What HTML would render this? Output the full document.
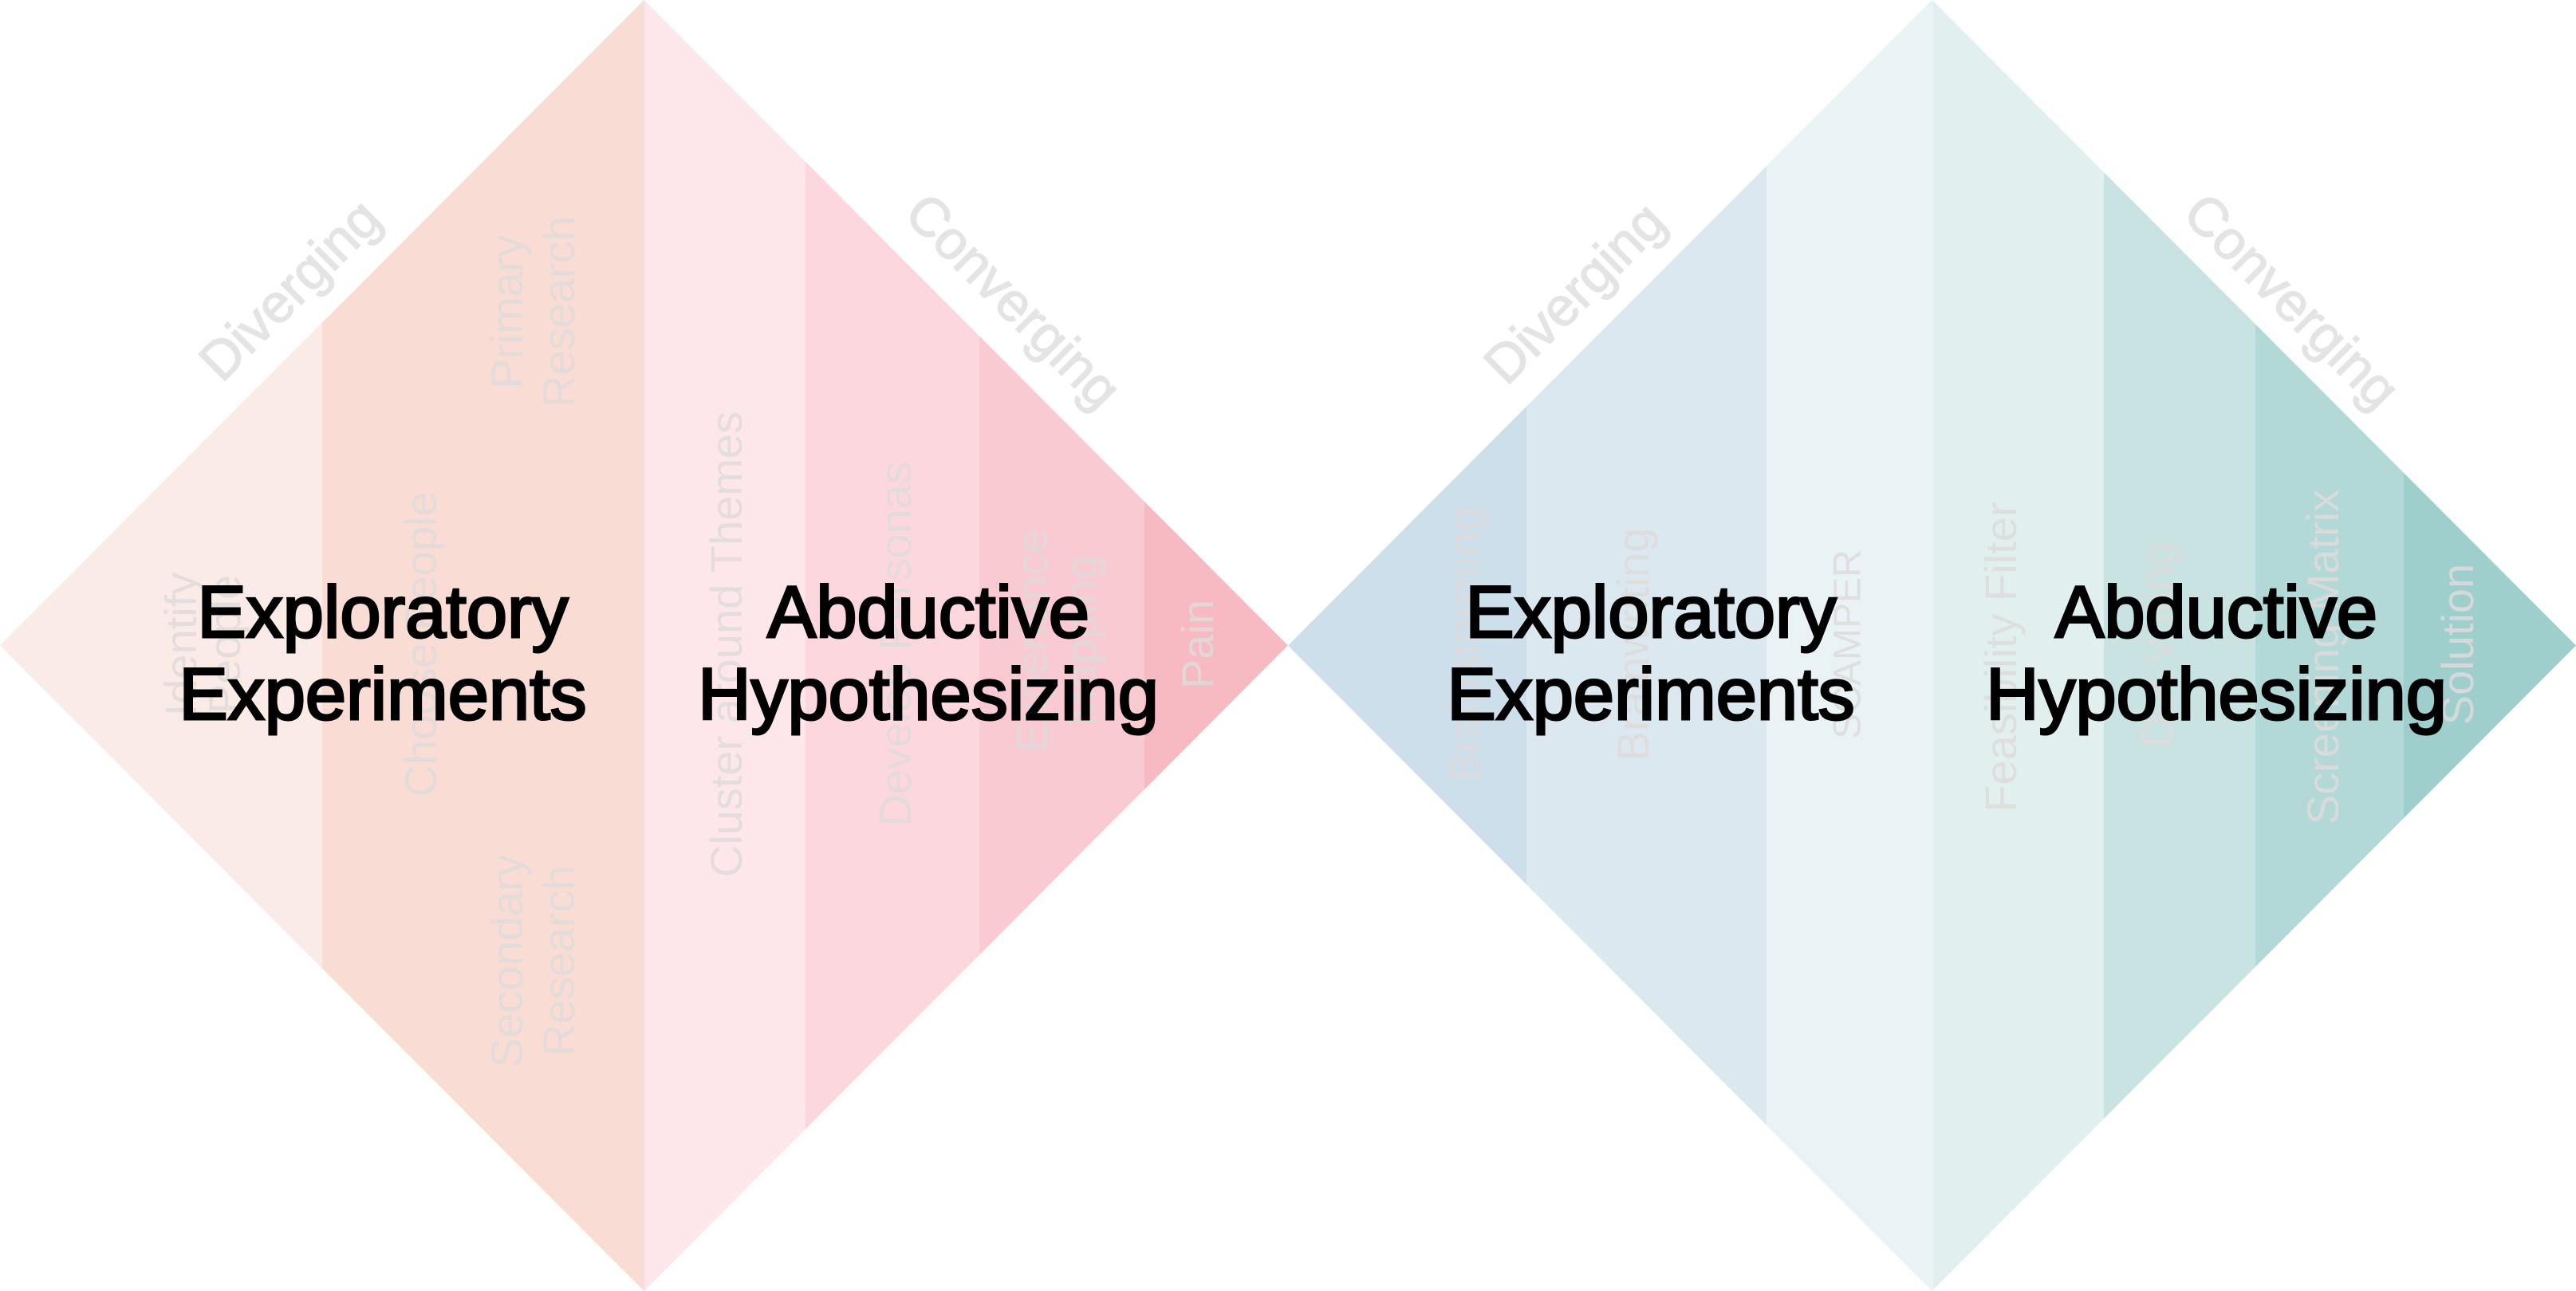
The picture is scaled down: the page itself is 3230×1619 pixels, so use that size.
<!DOCTYPE html>
<html><head><style>html,body{margin:0;padding:0;background:#fff}svg{display:block}</style></head>
<body>
<svg width="3230" height="1619" viewBox="0 0 3230 1619" xmlns="http://www.w3.org/2000/svg">
<defs>
<clipPath id="dl"><polygon points="0,809.5 807.5,0 1615,809.5 807.5,1619"/></clipPath>
<clipPath id="dr"><polygon points="1615,809.5 2422.5,0 3230,809.5 2422.5,1619"/></clipPath>
</defs>
<g clip-path="url(#dl)">
<rect x="0" y="0" width="404" height="1619" fill="#fbebe7"/>
<rect x="404" y="0" width="404" height="1619" fill="#f9ddd4"/>
<rect x="808" y="0" width="202" height="1619" fill="#fde7ea"/>
<rect x="1010" y="0" width="218" height="1619" fill="#fcd8de"/>
<rect x="1228" y="0" width="207" height="1619" fill="#f9cad2"/>
<rect x="1435" y="0" width="180" height="1619" fill="#f7bac3"/>
</g>
<g clip-path="url(#dr)">
<rect x="1615" y="0" width="299" height="1619" fill="#cddfea"/>
<rect x="1914" y="0" width="301" height="1619" fill="#dce8f0"/>
<rect x="2215" y="0" width="209" height="1619" fill="#e9f2f5"/>
<rect x="2424" y="0" width="214" height="1619" fill="#e1efef"/>
<rect x="2638" y="0" width="190" height="1619" fill="#c8e3e1"/>
<rect x="2828" y="0" width="186" height="1619" fill="#b2d9d7"/>
<rect x="3014" y="0" width="216" height="1619" fill="#9ecfcd"/>
</g>
<g font-family="Liberation Sans, sans-serif" fill="#dedada" fill-opacity="0.85" font-size="56" text-anchor="middle" dominant-baseline="middle">
<text transform="translate(231,808) rotate(-90)">Identify</text>
<text transform="translate(286,808) rotate(-90)">People</text>
<text transform="translate(640,391) rotate(-90)">Primary</text>
<text transform="translate(705,391) rotate(-90)">Research</text>
<text transform="translate(532,808) rotate(-90)">Choose People</text>
<text transform="translate(640,1205) rotate(-90)">Secondary</text>
<text transform="translate(705,1205) rotate(-90)">Research</text>
<text transform="translate(915,808) rotate(-90)">Cluster around Themes</text>
<text transform="translate(1127,808) rotate(-90)">Develop Personas</text>
<text transform="translate(1298,803) rotate(-90)">Experience</text>
<text transform="translate(1360,803) rotate(-90)">Mapping</text>
<text transform="translate(1506,808) rotate(-90)">Pain</text>
<text transform="translate(1840,808) rotate(-90)">Brainstorming</text>
<text transform="translate(2052,808) rotate(-90)">Brainwriting</text>
<text transform="translate(2320,808) rotate(-90)" font-size="48">SCAMPER</text>
<text transform="translate(2513,824) rotate(-90)">Feasibility Filter</text>
<text transform="translate(2709,808) rotate(-90)">Dot Voting</text>
<text transform="translate(2917,824) rotate(-90)">Screening Matrix</text>
<text transform="translate(3086,808) rotate(-90)">Solution</text>
<g font-size="68" fill="#e4e4e4" fill-opacity="1" stroke="#e4e4e4" stroke-width="1.5">
<text transform="translate(367,367) rotate(-45)">Diverging</text>
<text transform="translate(1267,381) rotate(45)">Converging</text>
<text transform="translate(1978,371) rotate(-45)">Diverging</text>
<text transform="translate(2870,381) rotate(45)">Converging</text>
</g>
</g>
<g font-family="Liberation Sans, sans-serif" fill="#000" stroke="#000" stroke-width="3" font-size="92" text-anchor="middle">
<text x="480" y="799">Exploratory</text>
<text x="480" y="902">Experiments</text>
<text x="1164" y="799">Abductive</text>
<text x="1164" y="902">Hypothesizing</text>
<text x="2070" y="799">Exploratory</text>
<text x="2070" y="902">Experiments</text>
<text x="2779" y="799">Abductive</text>
<text x="2779" y="902">Hypothesizing</text>
</g>
</svg>
</body></html>
